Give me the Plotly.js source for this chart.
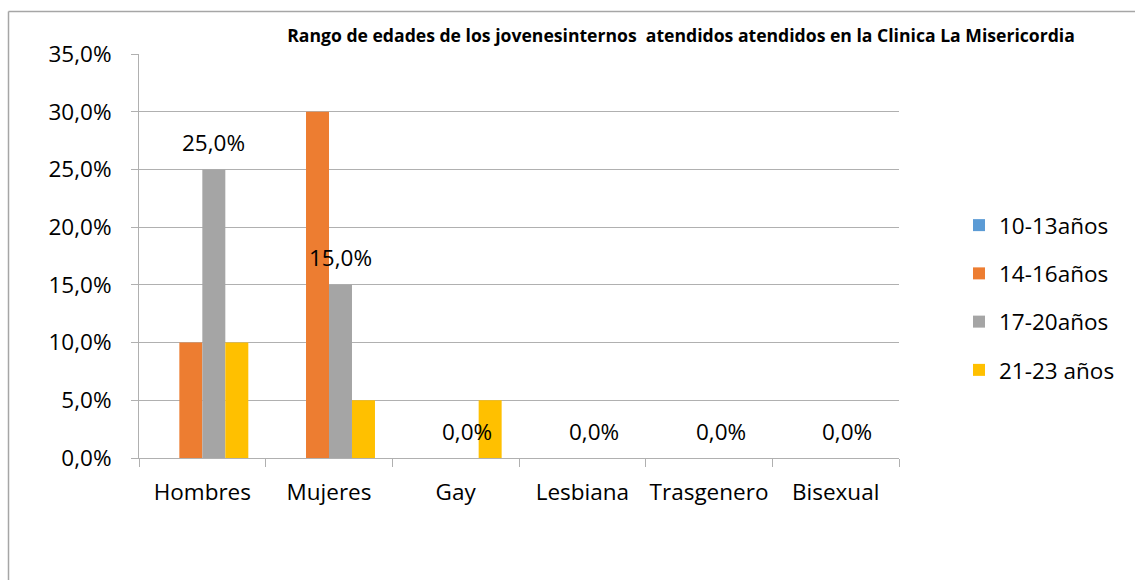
<!DOCTYPE html>
<html>
<head>
<meta charset="utf-8">
<script src="https://cdn.plot.ly/plotly-3.0.1.min.js"></script>
<style>
html,body{margin:0;padding:0;background:#fff;}
#chart{width:1135px;height:580px;}
</style>
</head>
<body>
<div id="chart"></div>
<script>
const categories = ["Hombres", "Mujeres", "Gay", "Lesbiana", "Trasgenero", "Bisexual"];
const seriesNames = ["10-13años", "14-16años", "17-20años", "21-23 años"];
const s1013 = [0, 0, 0, 0, 0, 0];
const s1416 = [0.10, 0.30, 0, 0, 0, 0];
const s1720 = [0.25, 0.15, 0, 0, 0, 0];
const s2123 = [0.10, 0.05, 0.05, 0, 0, 0];
const colors = ["#5B9BD5", "#ED7D31", "#A5A5A5", "#FFC000"];
const yTicks = [0, 0.05, 0.10, 0.15, 0.20, 0.25, 0.30, 0.35];
const titleText = "Rango de edades de los jovenesinternos\u00a0 atendidos atendidos en la Clinica La Misericordia";

const FONT = "Open Sans, Lato, sans-serif";
const FS = 22.5;
const allSeries = [s1013, s1416, s1720, s2123];

const traces = allSeries.map((vals, i) => ({
  type: "bar",
  name: seriesNames[i],
  x: categories,
  y: vals,
  marker: {color: colors[i], line: {width: 0}},
  legendgroup: "g" + i,
  hoverinfo: "name+y"
}));

// data labels for the 17-20 series
const annotations = categories.map((c, j) => ({
  x: c, y: s1720[j], xref: "x", yref: "y",
  text: (s1720[j] * 100).toFixed(1).replace(".", ",") + "%",
  showarrow: false, xshift: 11.5, yshift: 27, yanchor: "middle",
  font: {family: FONT, size: FS, color: "#000"}
}));

const L = 139, R = 899, T = 54, B = 458, W = 1135, H = 580;
const pw = R - L, ph = B - T;
const bx0 = (8.5 - L) / pw, bx1 = (1200 - L) / pw;
const by0 = (B - 650) / ph, by1 = (B - 11.5) / ph;

const layout = {
  width: W, height: H,
  margin: {l: L, r: W - R, t: T, b: H - B, pad: 0},
  paper_bgcolor: "#fff", plot_bgcolor: "#fff",
  separators: ",.",
  font: {family: FONT, color: "#000"},
  title: {
    text: "<b>" + titleText + "</b>",
    font: {family: FONT, size: 17.6, color: "#000"},
    xref: "paper", x: (681 - L) / pw, xanchor: "center",
    yref: "container", y: 1 - 36 / H, yanchor: "middle"
  },
  barmode: "group",
  bargap: 0.274, bargroupgap: 0,
  xaxis: {
    type: "category",
    tickson: "boundaries", ticks: "outside", ticklen: 8, tickcolor: "#b0b0b0", tickwidth: 1,
    showline: true, linecolor: "#b0b0b0", linewidth: 1,
    showgrid: false, zeroline: false, tickangle: 0,
    tickfont: {family: FONT, size: FS, color: "#000"},
    ticklabelstandoff: 14
  },
  yaxis: {
    range: [0, 0.35], tickvals: yTicks, tickformat: ".1%",
    ticks: "outside", ticklen: 7, tickcolor: "#b0b0b0", tickwidth: 1,
    showline: true, linecolor: "#b0b0b0", linewidth: 1,
    showgrid: true, gridcolor: "#b0b0b0", gridwidth: 1,
    zeroline: false,
    tickfont: {family: FONT, size: FS, color: "#000"},
    ticklabelstandoff: 15
  },
  legend: {
    x: (959 - L) / pw, xanchor: "left",
    y: (B - 204) / ph, yanchor: "top",
    font: {family: FONT, size: FS, color: "#000"},
    traceorder: "grouped", tracegroupgap: 16,
    bgcolor: "rgba(0,0,0,0)", borderwidth: 0
  },
  shapes: [
    {type: "line", xref: "paper", yref: "paper", x0: bx0, x1: bx1, y0: by1, y1: by1,
     line: {color: "#a6a6a6", width: 1.5}, layer: "below"},
    {type: "line", xref: "paper", yref: "paper", x0: bx0, x1: bx0, y0: by0, y1: by1,
     line: {color: "#a6a6a6", width: 1.5}, layer: "below"}
  ],
  annotations: annotations,
  showlegend: true
};

Plotly.newPlot("chart", traces, layout, {displayModeBar: false, staticPlot: true});
</script>
</body>
</html>
